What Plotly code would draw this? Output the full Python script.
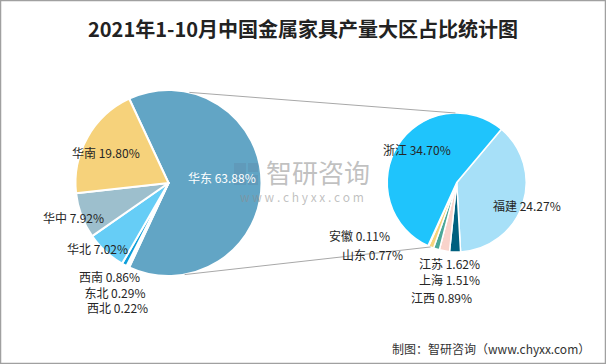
import math
import plotly.graph_objects as go

W, H = 606, 364

# ---------------- data ----------------
regions = ['华东', '西北', '东北', '西南', '华北', '华中', '华南']
region_share = [63.88, 0.22, 0.29, 0.86, 7.02, 7.92, 19.80]

provinces = ['福建', '江苏', '上海', '江西', '山东', '安徽', '浙江']
province_share = [24.27, 1.62, 1.51, 0.89, 0.77, 0.11, 34.70]

title_text = '2021年1-10月中国金属家具产量大区占比统计图'
source_text = '制图：智研咨询（www.chyxx.com）'

# ---------------- styles ----------------
region_colors = ['#62A5C5', '#2B6E9A', '#1B87BA', '#0E9FDA', '#66CDF6', '#9DBFCD', '#F6D27B']
province_colors = ['#A7E0F8', '#00607F', '#F9D3CB', '#4BA899', '#F6D47C', '#F3C35A', '#1FC4FC']

# pixel geometry of the two pies (center x, center y, radius)
L = (168.5, 183.0, 93.0)
R = (456.7, 182.5, 69.5)

# label positions (pixel centres)
region_label_pos = {
    '华东': (222, 177), '华南': (106, 152), '华中': (73, 217), '华北': (98, 248),
}
small_block_pos = (77, 292)   # left edge, centre y of the stacked small-region labels
small_block_indent = {'西南': 0, '东北': 2, '西北': 3}
province_label_pos = {
    '浙江': (417, 149), '福建': (527, 205), '安徽': (359, 235), '山东': (372, 255),
    '江苏': (449, 263), '上海': (449, 279), '江西': (441, 297),
}

FONT = 'Noto Sans CJK SC'


def dom(c):
    cx, cy, r = c
    return dict(x=[(cx - r) / W, (cx + r) / W], y=[1 - (cy + r) / H, 1 - (cy - r) / H])


def px(x, y):
    return x / W, 1 - y / H


fig = go.Figure()

rot_left = 90 - region_share[0] / sum(region_share) * 180
fig.add_trace(go.Pie(
    labels=regions, values=region_share, sort=False, direction='clockwise',
    rotation=rot_left, textinfo='none', textposition='none', hoverinfo='label+percent',
    marker=dict(colors=region_colors, line=dict(color='white', width=2)),
    domain=dom(L), showlegend=False,
))

fig.add_trace(go.Pie(
    labels=provinces, values=province_share, sort=False, direction='clockwise',
    rotation=40, textinfo='none', textposition='none', hoverinfo='label+value',
    marker=dict(colors=province_colors, line=dict(color='white', width=1.5)),
    domain=dom(R), showlegend=False,
))

annotations = []
small_lines = []
for name, v in zip(regions, region_share):
    if name in region_label_pos:
        x, y = px(*region_label_pos[name])
        col = 'white' if name == '华东' else '#262626'
        annotations.append(dict(x=x, y=y, xref='paper', yref='paper', showarrow=False,
                                text=f'{name} {v:.2f}%', xanchor='center', yanchor='middle',
                                font=dict(family=FONT, size=12, color=col)))
for name in ['西南', '东北', '西北']:
    v = region_share[regions.index(name)]
    small_lines.append('&nbsp;' * small_block_indent[name] + f'{name} {v:.2f}%')
x, y = px(*small_block_pos)
annotations.append(dict(x=x, y=y, xref='paper', yref='paper', showarrow=False,
                        text='<br>'.join(small_lines), xanchor='left', yanchor='middle',
                        align='left', font=dict(family=FONT, size=12, color='#262626')))

for name, v in zip(provinces, province_share):
    x, y = px(*province_label_pos[name])
    annotations.append(dict(x=x, y=y, xref='paper', yref='paper', showarrow=False,
                            text=f'{name} {v:.2f}%', xanchor='center', yanchor='middle',
                            font=dict(family=FONT, size=12, color='#262626')))

# title
tx, ty = px(303, 29)
annotations.append(dict(x=tx, y=ty, xref='paper', yref='paper', showarrow=False,
                        text=f'<b>{title_text}</b>', xanchor='center', yanchor='middle',
                        font=dict(family=FONT, size=20, color='#222222')))
# source
sx, sy = px(592, 348)
annotations.append(dict(x=sx, y=sy, xref='paper', yref='paper', showarrow=False,
                        text=source_text, xanchor='right', yanchor='middle',
                        font=dict(family=FONT, size=12, color='#333333')))
# watermark
wx, wy = px(318, 171)
annotations.append(dict(x=wx, y=wy, xref='paper', yref='paper', showarrow=False,
                        text='智研咨询', xanchor='center', yanchor='middle',
                        font=dict(family=FONT, size=26, color='rgba(140,140,140,0.55)')))
wx, wy = px(302, 196)
annotations.append(dict(x=wx, y=wy, xref='paper', yref='paper', showarrow=False,
                        text='w w w . c h y x x . c o m', xanchor='center', yanchor='middle',
                        font=dict(family=FONT, size=12, color='rgba(140,140,140,0.55)')))


def on_circle(c, ang_deg):
    cx, cy, r = c
    a = math.radians(ang_deg)
    return cx + r * math.cos(a), cy - r * math.sin(a)


shapes = []
# connector lines
for la, ra in [(77, 91), (-80, -112)]:
    x0, y0 = on_circle(L, la)
    x1, y1 = on_circle(R, ra)
    X0, Y0 = px(x0, y0)
    X1, Y1 = px(x1, y1)
    shapes.append(dict(type='line', xref='paper', yref='paper', x0=X0, y0=Y0, x1=X1, y1=Y1,
                       line=dict(color='#A8A8A8', width=1)))
# watermark logo
for (a, b, c, d) in [(234, 163, 246, 185), (248, 163, 258, 172), (248, 175, 258, 185)]:
    X0, Y0 = px(a, b)
    X1, Y1 = px(c, d)
    shapes.append(dict(type='rect', xref='paper', yref='paper', x0=X0, y0=Y0, x1=X1, y1=Y1,
                       line=dict(width=0), fillcolor='rgba(90,120,150,0.22)'))
# frame
shapes.append(dict(type='rect', xref='paper', yref='paper', x0=0.5 / W, y0=0.5 / H,
                   x1=1 - 0.5 / W, y1=1 - 0.5 / H, line=dict(color='#A0A0A0', width=1.5)))

fig.update_layout(
    width=W, height=H, margin=dict(l=0, r=0, t=0, b=0),
    paper_bgcolor='white', plot_bgcolor='white',
    annotations=annotations, shapes=shapes,
)

fig.write_html('out.html', config={'displayModeBar': False},
               post_script="document.body.style.margin='0';")
